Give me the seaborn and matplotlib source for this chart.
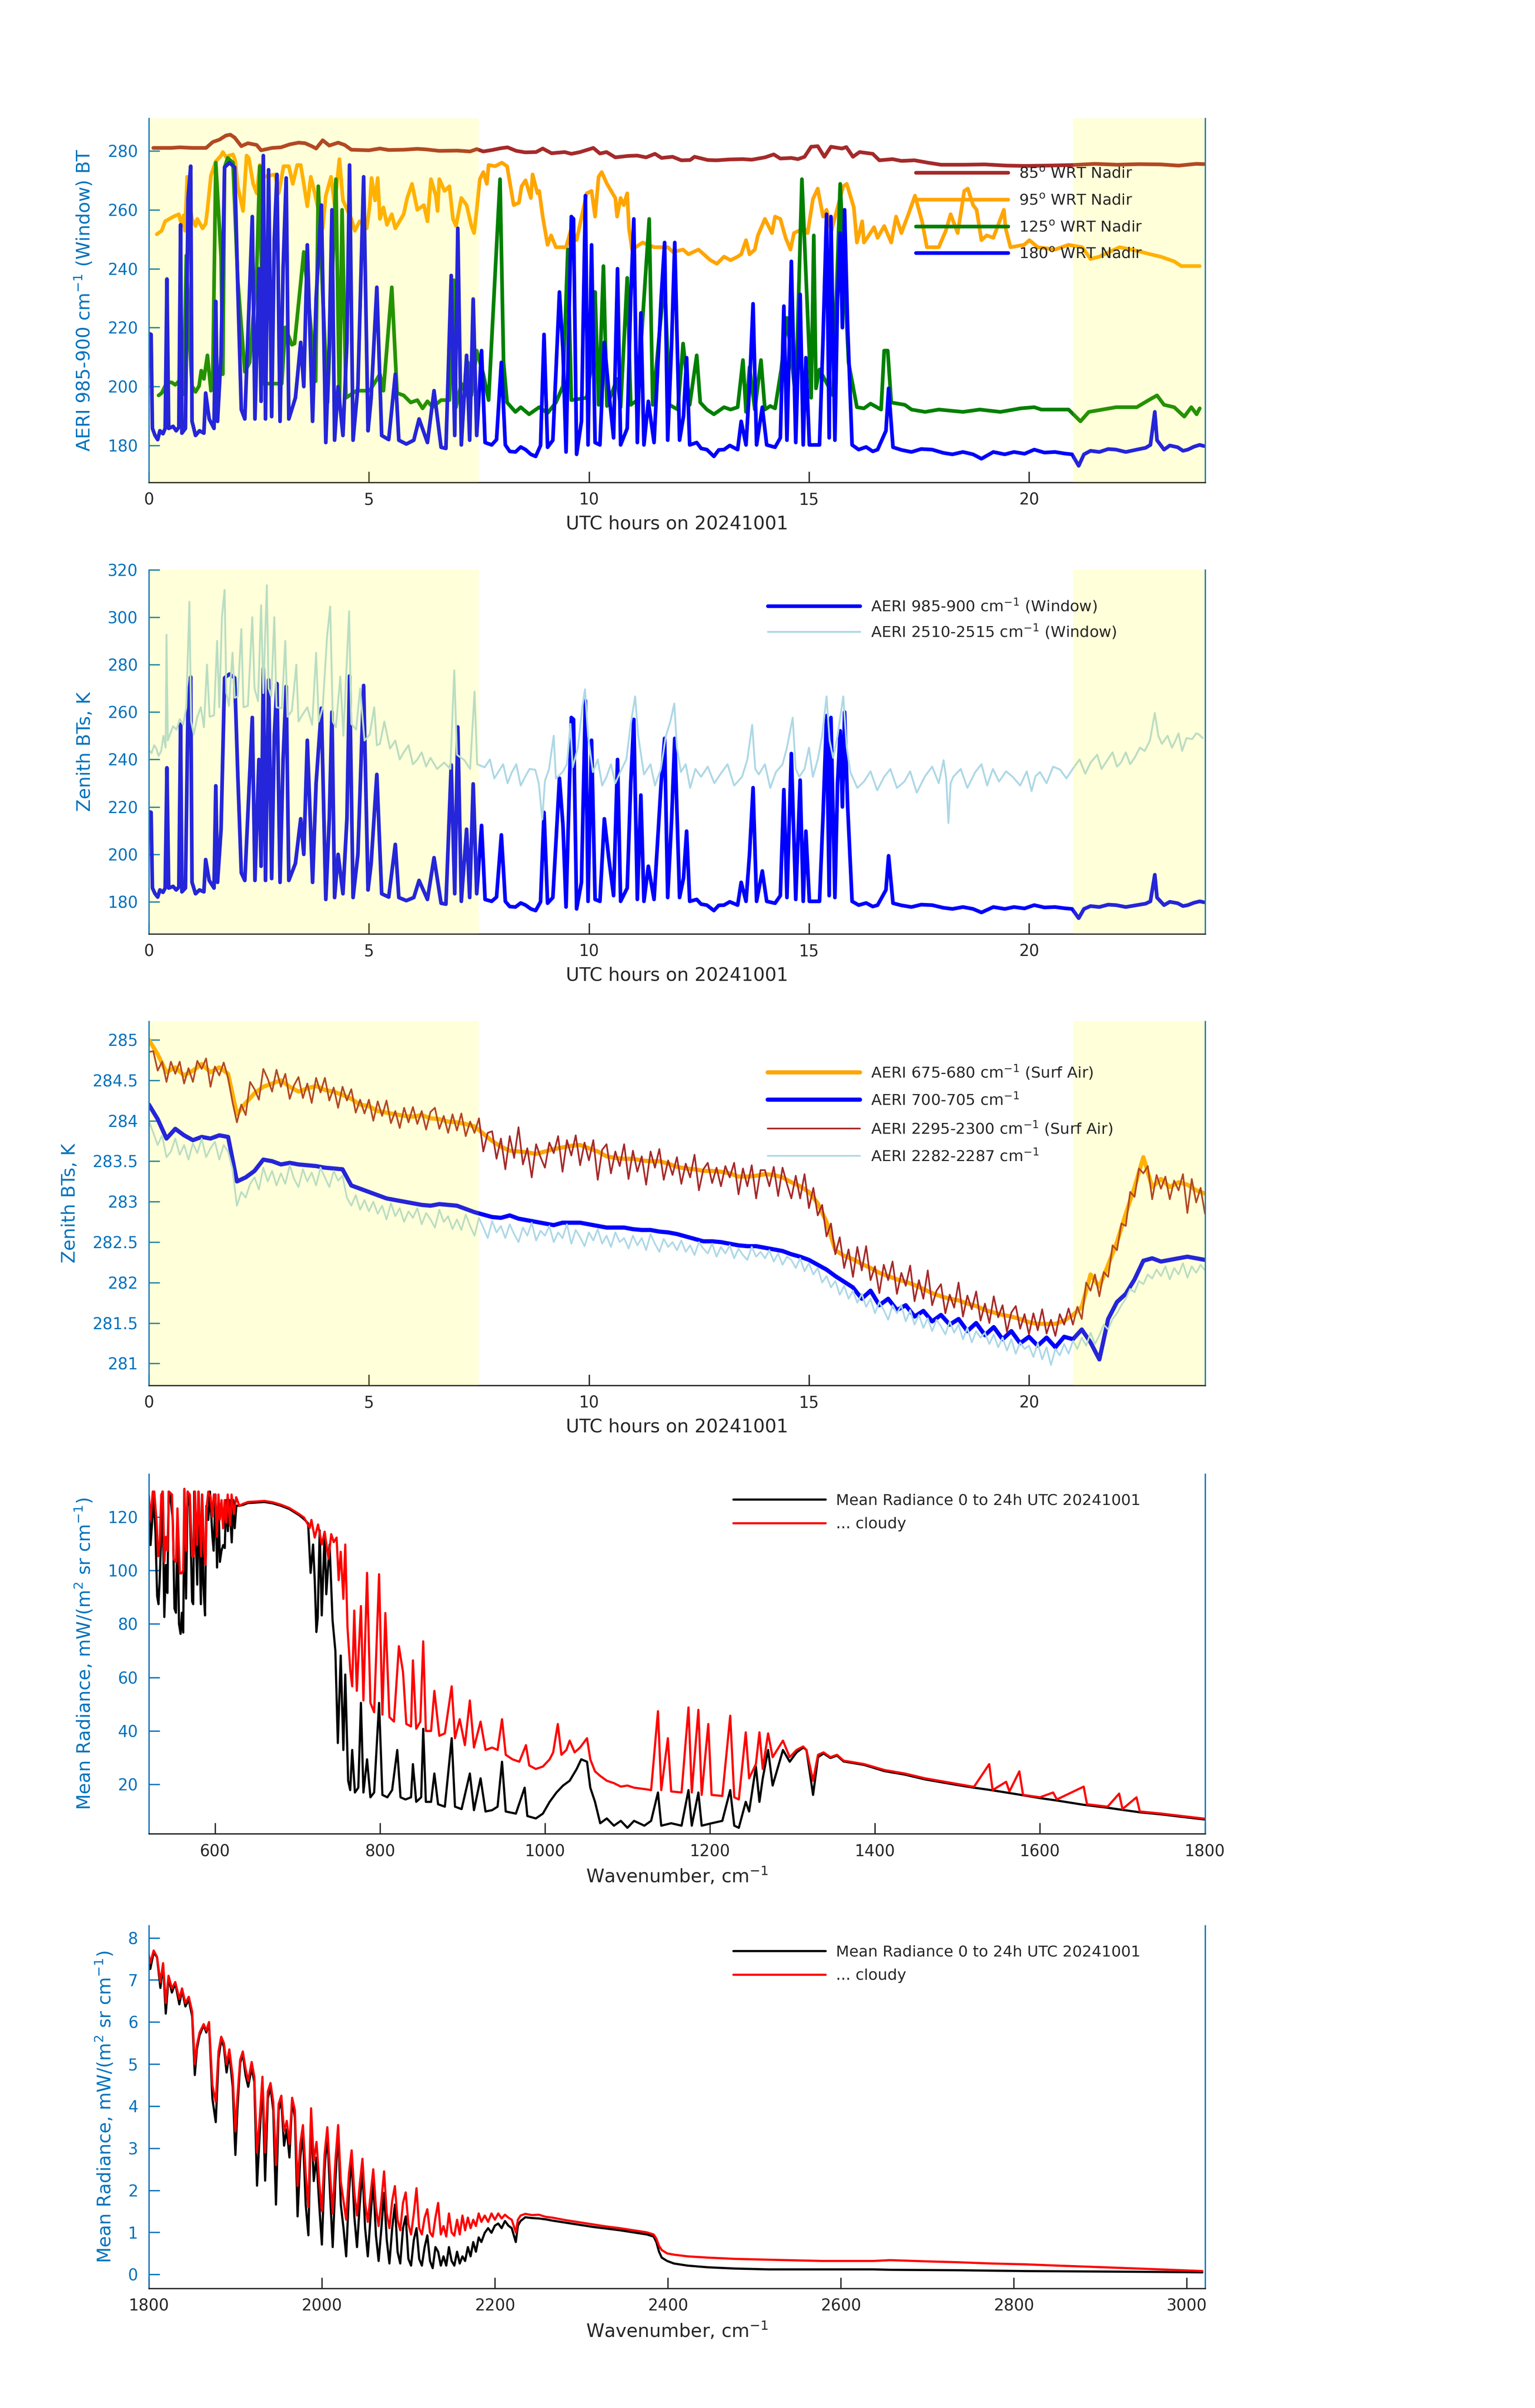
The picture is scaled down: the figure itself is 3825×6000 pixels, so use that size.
import numpy as np
import matplotlib
matplotlib.use("Agg")
import matplotlib.pyplot as plt
import seaborn as sns

# ---------------- panel 1/2: window BTs vs UTC hour (hour, K) ----------------
nadir85 = [
    (0.1, 281.0), (0.5, 281.0), (0.7, 281.2), (1.0, 281.0), (1.3, 281.0), (1.45, 283.0), (1.6, 283.8),
    (1.75, 285.2), (1.85, 285.5), (1.95, 284.5), (2.1, 281.6), (2.25, 282.6), (2.45, 282.0), (2.55, 280.2),
    (2.8, 281.0), (3.0, 281.2), (3.2, 282.2), (3.4, 282.8), (3.55, 282.6), (3.7, 281.6), (3.8, 280.8),
    (3.95, 283.6), (4.1, 281.8), (4.3, 282.8), (4.45, 282.0), (4.6, 280.4), (5.0, 280.2), (5.25, 280.8),
    (5.45, 280.3), (5.8, 280.4), (6.1, 280.7), (6.3, 280.5), (6.6, 280.0), (7.0, 280.1), (7.3, 279.8),
    (7.45, 280.6), (7.6, 279.8), (7.8, 280.3), (8.0, 280.9), (8.15, 281.2), (8.35, 280.0), (8.55, 279.5),
    (8.8, 279.6), (8.95, 280.8), (9.15, 279.2), (9.45, 279.6), (9.6, 279.0), (9.8, 279.6), (10.1, 281.0),
    (10.25, 279.1), (10.4, 279.6), (10.6, 277.8), (10.9, 278.3), (11.1, 278.4), (11.3, 277.8), (11.5, 279.0),
    (11.65, 277.6), (11.9, 278.0), (12.1, 276.8), (12.3, 276.9), (12.4, 278.0), (12.7, 276.9), (12.9, 276.8),
    (13.2, 277.1), (13.5, 277.2), (13.7, 277.0), (14.0, 277.8), (14.2, 278.8), (14.35, 277.4), (14.6, 277.6),
    (14.75, 277.2), (14.9, 278.0), (15.05, 281.4), (15.2, 281.6), (15.35, 278.0), (15.5, 281.4), (15.75, 280.8),
    (15.85, 281.3), (16.0, 278.0), (16.15, 279.6), (16.45, 279.0), (16.6, 276.8), (16.9, 277.2), (17.1, 276.6),
    (17.4, 276.8), (17.7, 276.0), (18.0, 275.3), (18.5, 275.3), (19.0, 275.4), (19.5, 275.0), (19.9, 274.9),
    (20.4, 275.0), (21.0, 275.2), (21.5, 275.6), (22.0, 275.3), (22.5, 275.5), (23.0, 275.4), (23.4, 275.0),
    (23.8, 275.6), (24.0, 275.5),
]

nadir95 = [
    (0.18, 251.7), (0.29, 252.9), (0.37, 256.1), (0.56, 257.7), (0.68, 258.5), (0.75, 254.5), (0.79, 258.1),
    (0.82, 252.9), (0.87, 271.2), (0.91, 263.2), (0.98, 256.9), (1.06, 254.5), (1.10, 256.9), (1.22, 253.7),
    (1.29, 255.3), (1.33, 260.0), (1.41, 271.6), (1.52, 276.4), (1.64, 278.4), (1.68, 279.6), (1.75, 278.0),
    (1.91, 278.8), (1.96, 276.8), (2.02, 268.0), (2.14, 259.6), (2.22, 278.4), (2.27, 277.6), (2.37, 268.8),
    (2.45, 265.6), (2.52, 275.2), (2.60, 271.2), (2.87, 272.0), (2.95, 265.6), (2.98, 268.0), (3.06, 274.8),
    (3.18, 274.8), (3.27, 268.8), (3.37, 275.2), (3.45, 275.2), (3.52, 268.8), (3.60, 261.2), (3.68, 271.2),
    (3.77, 265.6), (3.85, 260.0), (3.95, 253.7), (4.02, 264.8), (4.14, 271.2), (4.22, 261.6), (4.33, 277.2),
    (4.41, 263.2), (4.60, 256.9), (4.68, 252.9), (4.79, 256.1), (4.95, 253.7), (5.02, 261.6), (5.06, 270.8),
    (5.14, 263.2), (5.20, 270.8), (5.25, 256.9), (5.33, 260.8), (5.41, 254.9), (5.52, 258.5), (5.60, 253.7),
    (5.79, 258.5), (5.87, 264.0), (5.98, 268.8), (6.10, 260.0), (6.25, 261.6), (6.33, 256.1), (6.41, 270.4),
    (6.52, 264.8), (6.56, 259.6), (6.60, 270.4), (6.72, 266.4), (6.83, 268.0), (6.91, 256.9), (6.98, 254.5),
    (7.10, 264.0), (7.22, 261.6), (7.33, 254.5), (7.39, 252.1), (7.45, 260.0), (7.52, 270.4), (7.60, 272.8),
    (7.68, 268.8), (7.72, 275.2), (7.87, 274.8), (8.02, 276.0), (8.14, 274.8), (8.29, 261.6), (8.41, 262.4),
    (8.47, 268.0), (8.56, 270.0), (8.68, 264.0), (8.72, 272.0), (8.83, 265.6), (8.87, 266.4), (8.95, 257.7),
    (9.06, 248.1), (9.14, 251.3), (9.25, 247.3), (9.48, 247.3), (9.60, 253.7), (9.72, 249.7), (9.95, 265.6),
    (10.06, 266.4), (10.14, 257.7), (10.22, 271.2), (10.29, 272.8), (10.41, 268.8), (10.60, 264.0),
    (10.64, 257.7), (10.72, 264.0), (10.79, 261.6), (10.87, 265.6), (10.91, 253.7), (10.98, 246.5),
    (11.22, 248.9), (11.48, 247.3), (11.79, 247.3), (11.91, 245.7), (12.14, 246.5), (12.26, 244.9),
    (12.49, 246.5), (12.76, 242.9), (12.91, 241.7), (13.07, 244.1), (13.22, 242.9), (13.38, 244.1),
    (13.46, 244.9), (13.57, 249.7), (13.65, 244.9), (13.77, 246.5), (13.84, 251.3), (14.00, 256.9),
    (14.16, 252.1), (14.23, 257.7), (14.35, 256.9), (14.47, 250.5), (14.58, 246.5), (14.66, 252.1),
    (14.89, 253.7), (14.97, 252.1), (15.09, 263.6), (15.20, 267.2), (15.32, 257.7), (15.40, 260.0),
    (15.51, 252.9), (15.78, 268.0), (15.86, 268.8), (16.02, 260.8), (16.09, 248.9), (16.21, 256.1),
    (16.25, 248.9), (16.36, 251.3), (16.48, 254.1), (16.56, 250.5), (16.71, 254.5), (16.87, 248.9),
    (16.98, 257.7), (17.10, 252.1), (17.26, 258.5), (17.41, 264.8), (17.57, 256.1), (17.68, 247.3),
    (17.95, 247.3), (18.11, 252.9), (18.22, 258.5), (18.38, 252.1), (18.53, 266.4), (18.61, 267.2),
    (18.73, 261.6), (18.81, 260.0), (18.92, 249.7), (19.04, 251.3), (19.19, 250.5), (19.43, 260.0),
    (19.47, 253.7), (19.58, 247.3), (19.89, 248.1), (20.01, 249.7), (20.20, 247.3), (20.59, 246.5),
    (20.90, 248.1), (21.21, 247.3), (21.40, 243.3), (21.60, 244.1), (21.83, 245.7), (22.06, 247.3),
    (22.45, 246.1), (22.76, 244.9), (22.99, 244.1), (23.30, 242.5), (23.46, 240.9), (23.88, 240.9),
]

nadir125 = [
    (0.22, 197.0), (0.29, 197.8), (0.41, 201.4), (0.52, 201.4), (0.60, 200.6), (0.68, 201.8), (0.72, 201.0),
    (0.79, 197.4), (0.85, 244.5), (0.91, 219.4), (0.98, 200.2), (1.06, 198.2), (1.14, 200.2), (1.19, 205.4),
    (1.25, 202.6), (1.33, 210.6), (1.41, 198.6), (1.45, 201.0), (1.52, 276.0), (1.64, 244.1), (1.68, 204.2),
    (1.72, 274.4), (1.79, 277.6), (1.91, 276.0), (2.02, 236.1), (2.18, 205.0), (2.29, 208.2), (2.45, 239.3),
    (2.52, 274.8), (2.60, 201.0), (3.02, 201.0), (3.10, 220.1), (3.25, 214.2), (3.31, 214.6), (3.52, 245.7),
    (3.60, 233.7), (3.79, 201.8), (3.85, 268.0), (3.95, 231.3), (4.06, 194.6), (4.25, 270.4), (4.33, 193.8),
    (4.39, 260.0), (4.48, 196.2), (4.72, 198.6), (5.02, 198.6), (5.25, 204.2), (5.33, 198.6), (5.52, 233.7),
    (5.64, 197.8), (5.79, 197.0), (5.95, 194.6), (6.10, 195.4), (6.22, 192.6), (6.33, 195.0), (6.45, 193.0),
    (6.64, 195.4), (6.83, 195.4), (6.93, 236.1), (6.98, 193.0), (7.10, 201.0), (7.22, 197.0), (7.25, 208.2),
    (7.33, 197.0), (7.45, 212.2), (7.60, 204.2), (7.72, 195.4), (7.98, 270.4), (8.06, 208.2), (8.14, 194.6),
    (8.33, 191.4), (8.45, 193.0), (8.64, 190.6), (8.87, 193.0), (9.06, 191.0), (9.25, 194.6), (9.41, 200.2),
    (9.52, 246.5), (9.60, 195.4), (9.95, 196.2), (10.10, 212.2), (10.14, 232.1), (10.22, 193.8), (10.33, 240.9),
    (10.41, 193.4), (10.64, 202.6), (10.72, 193.0), (10.87, 236.9), (10.95, 193.8), (11.10, 195.4),
    (11.37, 256.9), (11.45, 193.8), (11.72, 236.9), (11.83, 193.8), (12.02, 192.2), (12.14, 214.6),
    (12.29, 193.8), (12.45, 210.6), (12.53, 194.6), (12.68, 192.2), (12.84, 190.6), (13.07, 193.0),
    (13.22, 192.2), (13.38, 193.0), (13.50, 209.0), (13.57, 191.4), (13.65, 206.6), (13.77, 192.2),
    (13.91, 209.0), (14.00, 192.2), (14.12, 193.4), (14.23, 192.6), (14.37, 205.8), (14.50, 223.3),
    (14.70, 196.2), (14.84, 270.4), (15.05, 196.2), (15.11, 251.3), (15.16, 199.4), (15.24, 205.8),
    (15.55, 197.0), (15.71, 268.8), (15.90, 208.2), (16.09, 193.0), (16.25, 192.6), (16.40, 194.2),
    (16.64, 192.2), (16.71, 212.2), (16.79, 212.2), (16.87, 194.6), (17.18, 193.8), (17.33, 192.2),
    (17.64, 191.4), (17.95, 192.2), (18.50, 191.4), (18.88, 192.2), (19.35, 191.4), (19.81, 192.6),
    (20.12, 193.0), (20.28, 192.2), (20.90, 192.2), (21.17, 188.2), (21.36, 191.4), (21.67, 192.2),
    (21.98, 193.0), (22.45, 193.0), (22.72, 195.4), (22.91, 197.0), (23.07, 193.8), (23.30, 193.0),
    (23.53, 189.8), (23.69, 193.0), (23.81, 190.6), (23.88, 192.6),
]

# 180 deg WRT nadir == zenith 985-900 cm-1 window (used in panels 1 and 2)
window985 = [
    (0.00, 218.0), (0.05, 217.7), (0.08, 185.8), (0.14, 183.4), (0.20, 182.0), (0.25, 185.0), (0.32, 184.0),
    (0.37, 185.8), (0.41, 236.5), (0.45, 185.8), (0.55, 186.5), (0.62, 185.0), (0.68, 186.2), (0.72, 254.9),
    (0.75, 184.2), (0.83, 185.8), (0.89, 264.0), (0.95, 274.8), (0.98, 188.2), (1.06, 183.4), (1.15, 185.0),
    (1.25, 184.2), (1.29, 197.8), (1.37, 189.0), (1.48, 185.8), (1.52, 228.9), (1.56, 188.2), (1.64, 210.6),
    (1.72, 274.4), (1.83, 276.0), (1.95, 274.4), (2.02, 233.7), (2.10, 192.2), (2.18, 189.0), (2.35, 257.7),
    (2.41, 189.0), (2.50, 240.0), (2.55, 195.0), (2.60, 278.4), (2.65, 189.0), (2.72, 273.6), (2.79, 189.8),
    (2.85, 250.0), (2.91, 272.0), (2.98, 188.2), (3.05, 240.0), (3.12, 270.8), (3.18, 189.0), (3.33, 196.2),
    (3.45, 215.0), (3.52, 200.0), (3.60, 248.1), (3.72, 188.2), (3.80, 230.0), (3.92, 261.6), (4.02, 181.0),
    (4.10, 215.0), (4.16, 260.0), (4.22, 181.8), (4.30, 200.0), (4.41, 183.4), (4.50, 215.0), (4.56, 275.2),
    (4.64, 181.8), (4.75, 200.0), (4.88, 271.2), (4.98, 185.0), (5.05, 196.0), (5.18, 233.7), (5.29, 183.4),
    (5.45, 182.0), (5.60, 204.2), (5.68, 181.8), (5.85, 180.5), (6.02, 181.8), (6.14, 189.0), (6.33, 181.0),
    (6.48, 198.6), (6.64, 179.4), (6.75, 179.0), (6.87, 237.7), (6.95, 183.4), (7.02, 253.7), (7.10, 180.2),
    (7.22, 210.6), (7.29, 181.8), (7.37, 229.7), (7.45, 183.4), (7.56, 212.2), (7.64, 181.0), (7.79, 180.2),
    (7.90, 182.0), (8.01, 208.2), (8.10, 180.2), (8.20, 178.0), (8.33, 177.8), (8.45, 179.5), (8.56, 178.6),
    (8.68, 177.0), (8.79, 176.3), (8.90, 180.0), (8.98, 217.7), (9.06, 179.4), (9.18, 181.8), (9.25, 205.0),
    (9.33, 232.1), (9.41, 212.2), (9.48, 177.8), (9.55, 225.0), (9.60, 257.7), (9.65, 256.9), (9.72, 177.0),
    (9.83, 188.2), (9.92, 264.8), (9.98, 180.2), (10.06, 248.1), (10.14, 181.0), (10.25, 180.2), (10.35, 215.0),
    (10.45, 198.6), (10.56, 182.6), (10.65, 240.0), (10.72, 180.2), (10.87, 185.8), (10.95, 230.0),
    (11.02, 256.9), (11.10, 181.0), (11.18, 225.0), (11.25, 180.2), (11.35, 195.0), (11.48, 181.0),
    (11.64, 229.7), (11.72, 248.9), (11.79, 181.8), (11.88, 215.0), (11.95, 248.9), (12.06, 181.8),
    (12.15, 190.0), (12.22, 209.8), (12.29, 180.2), (12.45, 181.0), (12.55, 179.0), (12.68, 178.6),
    (12.84, 176.3), (12.95, 178.5), (13.07, 178.6), (13.20, 180.0), (13.38, 178.6), (13.46, 188.2),
    (13.57, 180.2), (13.65, 200.2), (13.73, 228.1), (13.81, 180.2), (13.94, 193.0), (14.04, 180.2),
    (14.23, 179.4), (14.35, 182.6), (14.43, 227.3), (14.50, 181.8), (14.60, 242.5), (14.70, 181.0),
    (14.80, 231.3), (14.87, 180.2), (14.93, 209.8), (15.01, 180.2), (15.24, 180.2), (15.32, 216.2),
    (15.40, 258.5), (15.46, 182.6), (15.50, 257.7), (15.59, 181.8), (15.65, 230.0), (15.71, 252.1),
    (15.76, 220.0), (15.81, 260.0), (15.88, 220.1), (15.98, 180.2), (16.13, 178.6), (16.30, 179.5),
    (16.45, 178.0), (16.56, 178.6), (16.75, 185.0), (16.81, 199.4), (16.91, 179.4), (17.10, 178.5),
    (17.33, 177.8), (17.55, 178.8), (17.80, 178.6), (18.05, 177.5), (18.26, 177.0), (18.50, 177.8),
    (18.73, 177.0), (18.92, 175.5), (19.19, 177.8), (19.45, 177.0), (19.66, 177.8), (19.90, 177.2),
    (20.12, 178.6), (20.35, 177.6), (20.59, 177.8), (20.80, 177.3), (20.98, 177.0), (21.13, 173.1),
    (21.25, 177.0), (21.40, 178.2), (21.60, 177.8), (21.80, 178.8), (21.98, 178.6), (22.20, 177.8),
    (22.45, 178.6), (22.65, 179.2), (22.76, 180.2), (22.86, 191.4), (22.91, 181.8), (23.07, 178.6),
    (23.20, 180.0), (23.38, 179.4), (23.50, 178.2), (23.61, 178.6), (23.75, 179.6), (23.88, 180.2),
    (23.98, 179.8),
]

window2510 = [
    (0.00, 244.0), (0.06, 242.7), (0.12, 246.0), (0.17, 244.6), (0.22, 241.5), (0.28, 243.6), (0.33, 250.0),
    (0.38, 245.0), (0.40, 292.6), (0.43, 248.0), (0.48, 250.6), (0.55, 254.0), (0.63, 252.6), (0.70, 257.0),
    (0.78, 254.6), (0.85, 262.0), (0.92, 306.5), (0.96, 256.0), (1.02, 250.6), (1.10, 258.0), (1.18, 262.0),
    (1.25, 253.6), (1.32, 280.0), (1.38, 258.0), (1.48, 258.6), (1.55, 290.0), (1.60, 262.0), (1.66, 300.0),
    (1.72, 311.5), (1.76, 268.0), (1.82, 262.6), (1.90, 285.0), (1.95, 266.0), (2.02, 266.6), (2.10, 295.0),
    (2.15, 262.0), (2.25, 262.6), (2.35, 300.0), (2.40, 270.0), (2.48, 264.6), (2.55, 305.0), (2.60, 268.0),
    (2.68, 313.5), (2.72, 270.0), (2.78, 266.6), (2.85, 300.0), (2.90, 262.0), (3.02, 261.6), (3.10, 290.0),
    (3.15, 258.0), (3.25, 260.6), (3.35, 280.0), (3.40, 256.0), (3.48, 258.6), (3.60, 262.0), (3.71, 254.6),
    (3.80, 285.0), (3.86, 256.0), (3.95, 262.0), (4.05, 292.0), (4.12, 304.5), (4.18, 256.0), (4.25, 253.6),
    (4.35, 275.0), (4.42, 250.0), (4.55, 302.5), (4.60, 255.0), (4.71, 252.6), (4.80, 270.0), (4.90, 248.0),
    (5.02, 250.6), (5.12, 262.0), (5.18, 246.0), (5.25, 246.6), (5.35, 256.0), (5.48, 244.6), (5.60, 248.0),
    (5.70, 240.0), (5.78, 242.7), (5.90, 246.0), (6.00, 238.0), (6.09, 239.7), (6.20, 243.0), (6.30, 237.0),
    (6.40, 240.7), (6.55, 236.0), (6.71, 238.7), (6.85, 236.0), (6.94, 277.6), (7.00, 242.0), (7.17, 239.7),
    (7.30, 236.0), (7.40, 268.6), (7.46, 238.0), (7.63, 236.7), (7.75, 240.0), (7.85, 232.0), (7.94, 234.7),
    (8.05, 238.0), (8.15, 230.0), (8.25, 234.7), (8.35, 238.0), (8.45, 229.0), (8.55, 232.7), (8.65, 236.0),
    (8.78, 235.7), (8.86, 230.0), (8.94, 214.7), (9.00, 231.0), (9.09, 235.7), (9.20, 250.0), (9.25, 232.0),
    (9.40, 234.7), (9.50, 238.0), (9.58, 255.0), (9.63, 236.7), (9.75, 245.0), (9.85, 262.0), (9.91, 269.6),
    (9.98, 250.0), (10.09, 234.7), (10.20, 240.0), (10.30, 229.0), (10.40, 232.7), (10.50, 238.0),
    (10.60, 230.0), (10.71, 234.7), (10.85, 240.0), (10.95, 255.0), (11.05, 266.6), (11.12, 250.0),
    (11.25, 233.7), (11.40, 238.0), (11.50, 229.0), (11.63, 235.7), (11.75, 250.0), (11.85, 256.0),
    (11.94, 263.6), (12.00, 245.0), (12.09, 234.7), (12.20, 238.0), (12.30, 228.0), (12.42, 236.0),
    (12.55, 232.7), (12.70, 237.0), (12.85, 230.0), (13.02, 234.7), (13.15, 238.0), (13.30, 229.0),
    (13.48, 232.7), (13.60, 240.0), (13.71, 254.6), (13.78, 236.0), (13.86, 233.7), (14.00, 238.0),
    (14.12, 228.0), (14.25, 234.7), (14.40, 238.0), (14.50, 245.0), (14.63, 257.6), (14.70, 236.0),
    (14.78, 232.7), (14.90, 236.0), (15.00, 245.0), (15.09, 232.7), (15.20, 240.0), (15.30, 250.0),
    (15.40, 266.6), (15.47, 248.0), (15.55, 240.7), (15.65, 250.0), (15.78, 266.6), (15.86, 245.0),
    (15.94, 234.7), (16.10, 228.0), (16.25, 230.7), (16.40, 235.0), (16.55, 227.0), (16.71, 232.7),
    (16.85, 236.0), (17.00, 228.0), (17.17, 230.7), (17.30, 235.0), (17.45, 226.0), (17.63, 232.7),
    (17.80, 237.0), (17.95, 230.0), (18.06, 239.7), (18.12, 232.0), (18.17, 213.2), (18.22, 230.0),
    (18.28, 232.7), (18.45, 236.0), (18.60, 228.0), (18.78, 234.7), (18.92, 238.0), (19.05, 229.0),
    (19.18, 236.0), (19.32, 230.7), (19.48, 235.0), (19.63, 232.7), (19.80, 229.0), (19.95, 235.0),
    (20.06, 226.7), (20.15, 233.0), (20.25, 234.7), (20.40, 230.0), (20.55, 237.0), (20.71, 235.7),
    (20.85, 232.0), (21.02, 236.7), (21.15, 240.0), (21.28, 234.0), (21.40, 238.7), (21.55, 242.0),
    (21.65, 236.0), (21.78, 239.7), (21.90, 243.0), (22.00, 237.0), (22.09, 238.7), (22.20, 243.0),
    (22.30, 238.0), (22.40, 240.7), (22.52, 245.0), (22.63, 243.6), (22.75, 248.0), (22.86, 259.6),
    (22.94, 250.0), (23.02, 246.6), (23.15, 250.0), (23.25, 245.0), (23.32, 247.6), (23.40, 251.0),
    (23.48, 243.6), (23.58, 249.0), (23.71, 248.6), (23.80, 251.0), (23.86, 250.6), (23.95, 249.0),
]

# ---------------- panel 3: surface-air channels ----------------
# thick channels every 0.2 h (one row = 2 h)
hours_thick = np.arange(121) * 0.2
surf675 = [
    285.00, 284.82, 284.60, 284.66, 284.56, 284.62, 284.70, 284.60, 284.66, 284.58,
    284.08, 284.22, 284.34, 284.42, 284.46, 284.50, 284.42, 284.36, 284.40, 284.43,
    284.38, 284.36, 284.32, 284.27, 284.20, 284.18, 284.12, 284.10, 284.08, 284.06,
    284.05, 284.07, 284.03, 284.02, 283.99, 283.98, 283.96, 283.93, 283.84, 283.75,
    283.68, 283.63, 283.62, 283.61, 283.59, 283.62, 283.65, 283.67, 283.69, 283.70,
    283.66, 283.62, 283.56, 283.54, 283.53, 283.53, 283.51, 283.50, 283.50, 283.47,
    283.43, 283.41, 283.40, 283.38, 283.38, 283.37, 283.35, 283.31, 283.31, 283.32,
    283.34, 283.33, 283.30, 283.24, 283.19, 283.12, 282.98, 282.75, 282.40, 282.33,
    282.29, 282.23, 282.18, 282.12, 282.08, 282.04, 282.01, 281.97, 281.92, 281.87,
    281.83, 281.80, 281.78, 281.74, 281.71, 281.66, 281.63, 281.60, 281.58, 281.55,
    281.51, 281.49, 281.49, 281.49, 281.53, 281.60, 281.70, 282.10, 281.95, 282.22,
    282.50, 282.85, 283.18, 283.55, 283.18, 283.28, 283.18, 283.24, 283.21, 283.14,
    283.10,
]
ch700 = [
    284.20, 284.02, 283.78, 283.90, 283.82, 283.76, 283.80, 283.78, 283.82, 283.80,
    283.25, 283.30, 283.38, 283.52, 283.50, 283.46, 283.48, 283.46, 283.45, 283.44,
    283.42, 283.41, 283.40, 283.20, 283.16, 283.12, 283.08, 283.04, 283.02, 283.00,
    282.98, 282.96, 282.95, 282.97, 282.96, 282.95, 282.91, 282.87, 282.84, 282.81,
    282.80, 282.83, 282.79, 282.77, 282.75, 282.73, 282.71, 282.74, 282.74, 282.74,
    282.72, 282.70, 282.68, 282.68, 282.68, 282.66, 282.65, 282.65, 282.63, 282.62,
    282.60, 282.57, 282.54, 282.51, 282.51, 282.50, 282.48, 282.46, 282.45, 282.45,
    282.43, 282.41, 282.39, 282.35, 282.32, 282.28, 282.22, 282.16, 282.08, 282.01,
    281.94, 281.80, 281.90, 281.72, 281.80, 281.66, 281.72, 281.58, 281.65, 281.52,
    281.60, 281.48, 281.55, 281.40, 281.50, 281.35, 281.45, 281.30, 281.40, 281.25,
    281.33, 281.22, 281.32, 281.20, 281.33, 281.30, 281.42, 281.26, 281.05, 281.55,
    281.76, 281.86, 282.04, 282.27, 282.30, 282.26, 282.28, 282.30, 282.32, 282.30,
    282.28,
]
# thin channels every 0.1 h (one row = 1 h)
hours_thin = np.arange(241) * 0.1
surf2295 = [
    284.85, 284.86, 284.62, 284.73, 284.48, 284.73, 284.58, 284.73, 284.46, 284.65,
    284.48, 284.74, 284.64, 284.77, 284.42, 284.67, 284.56, 284.72, 284.53, 284.23,
    283.98, 284.20, 284.07, 284.48, 284.39, 284.26, 284.64, 284.52, 284.36, 284.63,
    284.42, 284.58, 284.27, 284.44, 284.54, 284.28, 284.46, 284.22, 284.53, 284.35,
    284.53, 284.25, 284.41, 284.16, 284.42, 284.25, 284.39, 284.10, 284.26, 284.09,
    284.26, 284.00, 284.24, 284.06, 284.25, 283.97, 284.12, 283.91, 284.16, 283.98,
    284.17, 283.96, 284.12, 283.89, 284.11, 284.16, 283.90, 284.06, 283.85, 284.08,
    283.88, 284.09, 283.81, 283.99, 283.85, 284.03, 283.62, 283.85, 283.87, 283.53,
    283.78, 283.40, 283.81, 283.54, 283.92, 283.46, 283.66, 283.30, 283.71, 283.55,
    283.42, 283.73, 283.60, 283.81, 283.37, 283.76, 283.57, 283.82, 283.45, 283.73,
    283.51, 283.76, 283.27, 283.64, 283.71, 283.35, 283.62, 283.44, 283.71, 283.28,
    283.63, 283.37, 283.56, 283.21, 283.62, 283.42, 283.65, 283.27, 283.51, 283.33,
    283.55, 283.22, 283.47, 283.30, 283.58, 283.14, 283.40, 283.48, 283.23, 283.42,
    283.19, 283.44, 283.30, 283.48, 283.09, 283.41, 283.19, 283.45, 283.04, 283.39,
    283.39, 283.19, 283.43, 283.07, 283.42, 283.22, 283.04, 283.32, 283.04, 283.34,
    282.92, 283.17, 282.83, 282.96, 282.57, 282.73, 282.35, 282.56, 282.18, 282.41,
    282.07, 282.44, 282.15, 282.45, 282.03, 282.20, 281.87, 282.22, 282.03, 282.26,
    281.86, 282.12, 281.96, 282.21, 281.77, 282.03, 281.80, 282.15, 281.72, 281.90,
    281.98, 281.62, 281.85, 281.69, 282.00, 281.58, 281.84, 281.67, 281.89, 281.53,
    281.74, 281.50, 281.83, 281.57, 281.72, 281.39, 281.63, 281.71, 281.43, 281.61,
    281.36, 281.62, 281.41, 281.67, 281.37, 281.54, 281.34, 281.61, 281.48, 281.68,
    281.48, 281.70, 281.55, 282.00, 281.90, 282.10, 281.83, 282.13, 282.07, 282.46,
    282.40, 282.73, 282.70, 283.12, 283.06, 283.41, 283.35, 283.44, 283.03, 283.33,
    283.16, 283.31, 283.03, 283.26, 283.14, 283.34, 282.86, 283.28, 282.99, 283.17,
    282.85,
]
ch2282 = [
    284.00, 283.85, 283.70, 283.82, 283.55, 283.62, 283.78, 283.58, 283.70, 283.52,
    283.72, 283.60, 283.78, 283.55, 283.66, 283.74, 283.52, 283.70, 283.62, 283.40,
    282.95, 283.12, 283.05, 283.22, 283.30, 283.15, 283.42, 283.25, 283.38, 283.20,
    283.35, 283.22, 283.45, 283.28, 283.18, 283.40, 283.25, 283.36, 283.20, 283.42,
    283.30, 283.18, 283.38, 283.26, 283.32, 283.05, 282.95, 283.08, 282.90, 283.02,
    282.88, 283.00, 282.85, 282.95, 282.78, 282.98, 282.82, 282.92, 282.75, 282.88,
    282.80, 282.92, 282.72, 282.86, 282.78, 282.68, 282.90, 282.75, 282.82, 282.66,
    282.78, 282.65, 282.84, 282.70, 282.58, 282.80, 282.68, 282.55, 282.76, 282.62,
    282.70, 282.55, 282.72, 282.60, 282.50, 282.68, 282.58, 282.74, 282.52, 282.64,
    282.58, 282.70, 282.50, 282.62, 282.55, 282.72, 282.48, 282.65, 282.56, 282.45,
    282.62, 282.52, 282.66, 282.48, 282.58, 282.44, 282.62, 282.50, 282.55, 282.42,
    282.58, 282.46, 282.55, 282.40, 282.60, 282.48, 282.38, 282.54, 282.44, 282.50,
    282.40, 282.52, 282.38, 282.46, 282.34, 282.50, 282.42, 282.36, 282.48, 282.32,
    282.44, 282.36, 282.46, 282.30, 282.42, 282.34, 282.28, 282.44, 282.32, 282.38,
    282.30, 282.40, 282.26, 282.36, 282.22, 282.32, 282.28, 282.18, 282.30, 282.14,
    282.24, 282.10, 282.18, 282.00, 282.08, 281.94, 282.02, 281.85, 281.96, 281.80,
    281.90, 281.75, 281.86, 281.70, 281.80, 281.62, 281.76, 281.66, 281.54, 281.72,
    281.62, 281.72, 281.52, 281.66, 281.48, 281.60, 281.44, 281.56, 281.40, 281.54,
    281.46, 281.36, 281.52, 281.38, 281.48, 281.30, 281.44, 281.26, 281.40, 281.32,
    281.38, 281.24, 281.36, 281.20, 281.32, 281.16, 281.30, 281.12, 281.26, 281.18,
    281.22, 281.08, 281.25, 281.05, 281.20, 280.98, 281.18, 281.10, 281.24, 281.12,
    281.28, 281.18, 281.32, 281.22, 281.38, 281.24, 281.35, 281.48, 281.42, 281.55,
    281.62, 281.72, 281.80, 281.92, 281.88, 282.02, 281.98, 282.10, 282.05, 282.16,
    282.08, 282.20, 282.04, 282.18, 282.10, 282.24, 282.06, 282.20, 282.12, 282.22,
    282.15,
]

# ---------------- panel 4: mean radiance 520-1800 cm-1 ----------------
rad_all_lw = [
    (520.0, 126.0), (522.0, 109.5), (524.0, 118.4), (525.6, 129.5), (528.0, 113.7), (530.0, 90.5),
    (531.6, 87.4), (533.0, 95.8), (535.0, 113.7), (536.5, 129.5), (538.7, 82.6), (540.6, 102.1),
    (542.5, 91.6), (544.0, 129.5), (546.0, 127.4), (549.0, 118.9), (551.0, 85.8), (552.8, 84.2),
    (554.6, 118.9), (556.5, 80.0), (558.4, 76.3), (560.0, 84.2), (561.6, 76.8), (563.0, 130.5),
    (565.0, 89.5), (567.0, 129.5), (569.6, 124.2), (572.4, 88.4), (573.7, 87.4), (575.0, 129.5),
    (578.6, 94.7), (580.0, 129.5), (583.0, 87.4), (584.4, 128.4), (586.0, 94.7), (588.0, 83.2),
    (589.7, 124.2), (592.0, 118.9), (594.0, 129.5), (597.0, 112.6), (598.5, 107.4), (600.7, 128.4),
    (602.6, 101.1), (604.5, 125.3), (606.0, 103.2), (608.0, 107.4), (610.0, 109.5), (612.0, 108.4),
    (613.5, 126.3), (615.7, 114.7), (617.6, 126.3), (620.4, 110.5), (622.3, 126.3), (624.0, 115.8),
    (626.0, 124.2), (630.0, 124.2), (634.0, 124.5), (640.0, 125.2), (650.0, 125.4), (660.0, 125.6),
    (670.0, 125.1), (680.0, 124.2), (690.0, 123.0), (702.0, 120.7), (708.0, 119.2), (713.0, 117.6),
    (716.0, 99.1), (719.0, 109.7), (721.0, 96.4), (723.0, 77.0), (724.6, 82.3), (727.0, 115.0),
    (729.5, 83.2), (733.0, 114.1), (735.0, 91.1), (739.0, 109.7), (742.6, 81.4), (746.0, 70.0),
    (749.0, 35.5), (752.5, 68.2), (755.7, 32.9), (758.0, 61.1), (761.5, 21.4), (764.0, 17.9),
    (766.4, 32.9), (769.7, 17.0), (773.8, 18.8), (777.0, 50.5), (780.0, 17.0), (784.4, 29.4),
    (788.5, 15.2), (793.0, 17.0), (799.0, 50.5), (803.0, 16.1), (809.0, 15.2), (814.8, 17.9),
    (821.0, 32.9), (825.0, 15.2), (831.0, 14.4), (837.7, 15.2), (840.0, 27.6), (844.0, 13.5),
    (850.0, 15.2), (852.5, 40.8), (855.7, 13.5), (862.0, 13.5), (866.0, 24.1), (870.5, 12.6),
    (878.7, 11.7), (887.0, 37.3), (891.0, 11.7), (899.0, 10.8), (909.0, 24.1), (914.0, 10.4),
    (922.0, 22.3), (928.0, 9.9), (936.0, 10.4), (942.6, 11.7), (948.0, 28.5), (952.5, 9.9),
    (964.8, 9.1), (975.4, 18.8), (978.7, 8.2), (989.0, 7.3), (997.5, 9.1), (1005.7, 13.5),
    (1014.0, 17.0), (1022.0, 19.6), (1030.0, 21.4), (1038.5, 25.8), (1044.0, 29.4), (1051.0, 28.5),
    (1055.0, 18.8), (1060.7, 13.5), (1067.0, 5.5), (1075.0, 7.3), (1083.6, 4.6), (1092.0, 6.4),
    (1100.0, 3.8), (1108.0, 6.4), (1120.5, 4.6), (1128.7, 6.4), (1137.0, 17.0), (1141.0, 4.6),
    (1153.0, 5.5), (1165.6, 4.6), (1174.0, 17.9), (1178.0, 4.6), (1186.0, 17.0), (1190.0, 4.6),
    (1202.0, 5.5), (1215.0, 6.4), (1224.6, 17.9), (1229.5, 4.6), (1235.0, 3.8), (1243.4, 13.5),
    (1247.5, 9.9), (1255.7, 26.7), (1260.0, 13.5), (1264.0, 22.3), (1270.5, 32.9), (1276.0, 19.6),
    (1288.5, 32.9), (1296.7, 28.5), (1305.0, 32.0), (1313.0, 33.8), (1317.0, 32.9), (1325.0, 16.1),
    (1331.0, 30.2), (1337.7, 31.6), (1346.0, 29.9), (1354.0, 30.8), (1362.0, 28.6), (1370.0, 28.2),
    (1387.0, 27.3), (1411.5, 25.0), (1436.0, 23.7), (1460.7, 21.9), (1485.0, 20.6), (1501.6, 19.7),
    (1520.0, 18.8), (1538.5, 18.0), (1559.0, 17.0), (1575.0, 16.2), (1600.0, 14.9), (1620.5, 14.0),
    (1653.0, 12.4), (1682.0, 11.3), (1700.0, 10.5), (1721.0, 9.6), (1747.5, 8.8), (1772.0, 7.9),
    (1797.0, 7.0), (1800.0, 6.9),
]
rad_cloudy_lw = [
    (520.0, 127.9), (522.0, 119.0), (524.7, 129.5), (526.5, 129.5), (529.4, 117.9), (531.2, 105.3),
    (533.0, 109.5), (535.0, 128.4), (536.9, 129.5), (538.7, 103.2), (540.6, 112.6), (542.5, 107.4),
    (544.3, 129.5), (548.0, 128.4), (550.0, 104.2), (552.8, 103.2), (554.6, 123.2), (557.5, 98.9),
    (559.3, 98.9), (561.6, 100.0), (563.0, 130.5), (565.0, 107.4), (566.8, 129.5), (569.6, 128.4),
    (572.4, 105.3), (574.3, 105.3), (575.8, 129.5), (578.4, 109.5), (580.3, 129.5), (583.3, 105.3),
    (584.6, 128.4), (587.0, 107.4), (588.7, 102.1), (590.2, 124.2), (592.0, 129.5), (594.9, 127.4),
    (596.8, 120.0), (598.7, 128.4), (600.5, 128.4), (602.4, 112.6), (604.3, 128.4), (606.1, 119.0),
    (608.0, 126.3), (609.9, 115.8), (611.8, 126.3), (613.6, 117.9), (615.5, 128.4), (618.3, 116.8),
    (620.2, 128.4), (623.0, 121.1), (625.8, 127.4), (629.6, 124.2), (634.0, 124.9), (640.0, 125.6),
    (650.0, 125.8), (660.0, 126.0), (670.0, 125.5), (680.0, 124.6), (690.0, 123.4), (702.0, 121.1),
    (708.0, 119.8), (715.0, 115.9), (717.0, 118.9), (721.0, 112.3), (725.0, 117.2), (729.5, 109.7),
    (733.0, 114.5), (737.7, 104.4), (741.0, 113.6), (744.0, 110.6), (747.5, 112.3), (750.0, 96.4),
    (752.5, 107.0), (755.7, 89.4), (758.0, 109.7), (760.7, 78.8), (764.0, 62.9), (766.4, 56.7),
    (768.9, 85.0), (772.0, 55.0), (777.0, 86.7), (780.0, 51.4), (784.4, 99.1), (788.5, 50.5),
    (793.0, 47.0), (799.0, 98.6), (803.0, 46.1), (806.6, 84.1), (811.5, 45.2), (817.0, 43.5),
    (823.0, 71.7), (828.0, 62.0), (832.0, 42.6), (837.7, 41.7), (840.0, 66.4), (844.0, 40.8),
    (849.0, 43.5), (852.5, 73.5), (855.7, 40.0), (862.0, 40.0), (866.0, 55.0), (872.0, 38.2),
    (878.7, 39.1), (887.0, 56.7), (891.0, 37.3), (896.7, 44.4), (903.0, 34.7), (909.0, 51.4),
    (914.0, 33.8), (922.0, 43.5), (928.0, 32.9), (936.0, 33.8), (942.6, 32.9), (948.0, 44.4),
    (952.5, 31.1), (960.7, 29.4), (969.0, 28.5), (977.0, 34.7), (981.0, 27.1), (989.0, 25.8),
    (997.5, 26.7), (1005.7, 29.4), (1010.0, 32.0), (1015.6, 42.6), (1020.0, 31.1), (1026.0, 32.9),
    (1030.0, 36.4), (1036.0, 32.0), (1042.6, 33.8), (1051.0, 37.3), (1055.0, 29.4), (1060.7, 24.9),
    (1067.0, 23.2), (1075.0, 21.4), (1083.6, 20.5), (1092.0, 19.2), (1100.0, 19.6), (1108.0, 18.8),
    (1120.5, 18.3), (1128.7, 17.9), (1137.0, 47.4), (1141.0, 17.9), (1149.0, 37.3), (1153.0, 17.4),
    (1165.6, 17.0), (1174.0, 48.8), (1178.0, 17.0), (1186.0, 47.9), (1190.0, 16.1), (1198.0, 42.6),
    (1202.0, 16.1), (1215.0, 15.7), (1224.6, 45.7), (1229.5, 15.2), (1235.0, 14.4), (1243.4, 39.5),
    (1247.5, 22.3), (1255.7, 27.6), (1260.0, 39.5), (1264.0, 25.8), (1270.5, 39.1), (1276.0, 30.2),
    (1288.5, 36.4), (1296.7, 30.2), (1305.0, 32.9), (1313.0, 34.2), (1317.0, 32.9), (1325.0, 21.4),
    (1331.0, 31.1), (1337.7, 32.0), (1346.0, 30.2), (1354.0, 31.1), (1362.0, 28.9), (1370.0, 28.5),
    (1387.0, 27.6), (1411.5, 25.4), (1436.0, 24.1), (1460.7, 22.3), (1485.0, 21.0), (1501.6, 20.1),
    (1520.0, 19.1), (1538.5, 27.6), (1542.6, 17.9), (1559.0, 21.0), (1563.0, 17.4), (1575.0, 24.9),
    (1579.5, 16.1), (1600.0, 15.2), (1616.0, 17.0), (1620.5, 14.4), (1653.0, 19.2), (1657.0, 12.6),
    (1682.0, 11.7), (1696.0, 16.6), (1700.0, 10.8), (1717.0, 15.2), (1721.0, 9.9), (1747.5, 9.1),
    (1772.0, 8.2), (1797.0, 7.3), (1800.0, 7.2),
]

# ---------------- panel 5: mean radiance 1800-3020 cm-1 ----------------
rad_all_sw = [
    (1797.7, 7.93), (1801.6, 7.26), (1805.5, 7.65), (1809.4, 7.54), (1813.3, 6.81), (1816.4, 7.37),
    (1819.5, 6.20), (1822.7, 7.04), (1826.6, 6.70), (1830.5, 6.92), (1835.2, 6.42), (1838.3, 6.76),
    (1842.2, 6.37), (1846.1, 6.53), (1850.0, 6.14), (1853.1, 4.74), (1855.5, 5.36), (1858.6, 5.69),
    (1863.3, 5.92), (1866.4, 5.75), (1869.5, 5.97), (1873.4, 4.18), (1877.3, 3.62), (1880.5, 5.13),
    (1883.6, 5.58), (1886.7, 5.41), (1889.8, 4.80), (1893.0, 5.25), (1896.9, 4.46), (1900.0, 2.84),
    (1902.3, 3.90), (1905.5, 5.02), (1908.6, 5.25), (1911.7, 4.74), (1914.8, 4.46), (1918.8, 4.91),
    (1921.9, 4.57), (1925.0, 2.11), (1928.1, 3.34), (1931.3, 4.57), (1934.4, 2.23), (1937.5, 4.18),
    (1940.6, 4.46), (1943.8, 3.90), (1946.9, 1.66), (1950.0, 3.90), (1953.1, 4.13), (1956.3, 3.06),
    (1959.4, 3.45), (1962.5, 2.78), (1965.6, 4.13), (1968.8, 3.73), (1971.9, 1.38), (1975.0, 2.78),
    (1978.1, 3.34), (1981.3, 1.66), (1984.4, 0.93), (1987.5, 3.79), (1990.6, 2.22), (1993.8, 2.78),
    (1996.9, 1.66), (2000.0, 0.71), (2003.1, 2.50), (2006.3, 3.34), (2009.4, 1.94), (2012.5, 0.65),
    (2015.6, 2.22), (2018.8, 3.45), (2021.9, 1.66), (2025.0, 1.10), (2028.1, 0.43), (2031.3, 1.94),
    (2034.4, 2.78), (2037.5, 1.38), (2040.6, 0.65), (2043.8, 1.66), (2046.9, 2.50), (2050.0, 1.10),
    (2053.1, 0.43), (2056.3, 1.38), (2059.4, 2.22), (2062.5, 0.93), (2065.6, 0.32), (2068.8, 1.10),
    (2071.9, 1.94), (2075.0, 0.82), (2078.1, 0.26), (2081.3, 1.10), (2084.4, 1.66), (2087.5, 0.54),
    (2090.6, 0.26), (2093.8, 1.10), (2096.9, 1.38), (2100.0, 0.37), (2103.1, 0.21), (2106.3, 0.82),
    (2109.4, 1.10), (2112.5, 0.37), (2115.6, 0.21), (2118.8, 0.65), (2121.9, 0.93), (2125.0, 0.32),
    (2128.1, 0.15), (2131.3, 0.65), (2134.4, 0.54), (2137.5, 0.21), (2140.6, 0.43), (2143.8, 0.21),
    (2146.9, 0.65), (2150.0, 0.32), (2153.1, 0.21), (2156.3, 0.54), (2159.4, 0.26), (2162.5, 0.43),
    (2165.6, 0.32), (2168.8, 0.65), (2171.9, 0.43), (2175.0, 0.77), (2178.1, 0.54), (2181.3, 0.88),
    (2184.4, 0.77), (2188.3, 0.99), (2192.2, 1.10), (2196.1, 0.99), (2200.0, 1.16), (2203.9, 1.21),
    (2207.8, 1.10), (2211.7, 1.27), (2215.6, 1.16), (2219.5, 1.10), (2221.9, 0.93), (2224.2, 0.77),
    (2226.6, 1.16), (2229.7, 1.27), (2235.2, 1.36), (2243.0, 1.34), (2250.8, 1.33), (2258.6, 1.31),
    (2266.4, 1.28), (2282.0, 1.23), (2297.7, 1.18), (2313.3, 1.13), (2328.9, 1.09), (2344.5, 1.05),
    (2360.2, 1.00), (2375.8, 0.95), (2383.6, 0.90), (2386.7, 0.77), (2389.8, 0.54), (2392.9, 0.40),
    (2399.2, 0.32), (2407.0, 0.26), (2422.7, 0.21), (2446.1, 0.17), (2477.3, 0.14), (2516.4, 0.12),
    (2578.9, 0.12), (2637.5, 0.12), (2657.0, 0.11), (2735.2, 0.10), (2813.3, 0.08), (2891.4, 0.07),
    (2969.5, 0.06), (3018.0, 0.05),
]
rad_cloudy_sw = [
    (1797.7, 7.85), (1801.6, 7.40), (1805.5, 7.70), (1809.4, 7.55), (1813.3, 6.95), (1816.4, 7.40),
    (1819.5, 6.45), (1822.7, 7.10), (1826.6, 6.80), (1830.5, 6.95), (1835.2, 6.55), (1838.3, 6.80),
    (1842.2, 6.45), (1846.1, 6.60), (1850.0, 6.25), (1853.1, 5.00), (1855.5, 5.45), (1858.6, 5.75),
    (1863.3, 5.95), (1866.4, 5.80), (1869.5, 6.00), (1873.4, 4.50), (1877.3, 4.10), (1880.5, 5.30),
    (1883.6, 5.65), (1886.7, 5.50), (1889.8, 5.00), (1893.0, 5.35), (1896.9, 4.70), (1900.0, 3.40),
    (1902.3, 4.20), (1905.5, 5.10), (1908.6, 5.30), (1911.7, 4.90), (1914.8, 4.60), (1918.8, 5.05),
    (1921.9, 4.70), (1925.0, 2.90), (1928.1, 3.70), (1931.3, 4.70), (1934.4, 2.90), (1937.5, 4.35),
    (1940.6, 4.55), (1943.8, 4.10), (1946.9, 2.60), (1950.0, 4.05), (1953.1, 4.25), (1956.3, 3.40),
    (1959.4, 3.65), (1962.5, 3.10), (1965.6, 4.20), (1968.8, 3.90), (1971.9, 2.10), (1975.0, 3.10),
    (1978.1, 3.55), (1981.3, 2.40), (1984.4, 1.60), (1987.5, 3.95), (1990.6, 2.70), (1993.8, 3.15),
    (1996.9, 2.20), (2000.0, 1.50), (2003.1, 2.85), (2006.3, 3.50), (2009.4, 2.40), (2012.5, 1.45),
    (2015.6, 2.70), (2018.8, 3.55), (2021.9, 2.20), (2025.0, 1.75), (2028.1, 1.30), (2031.3, 2.40),
    (2034.4, 2.95), (2037.5, 1.95), (2040.6, 1.40), (2043.8, 2.15), (2046.9, 2.75), (2050.0, 1.70),
    (2053.1, 1.25), (2056.3, 1.90), (2059.4, 2.50), (2062.5, 1.60), (2065.6, 1.15), (2068.8, 1.75),
    (2071.9, 2.45), (2075.0, 1.45), (2078.1, 1.10), (2081.3, 1.75), (2084.4, 2.10), (2087.5, 1.30),
    (2090.6, 1.05), (2093.8, 1.70), (2096.9, 1.95), (2100.0, 1.20), (2103.1, 0.95), (2106.3, 1.45),
    (2109.4, 2.05), (2112.5, 1.10), (2115.6, 0.95), (2118.8, 1.35), (2121.9, 1.55), (2125.0, 1.00),
    (2128.1, 0.90), (2131.3, 1.35), (2134.4, 1.70), (2137.5, 0.95), (2140.6, 1.15), (2143.8, 0.90),
    (2146.9, 1.45), (2150.0, 1.00), (2153.1, 0.92), (2156.3, 1.30), (2159.4, 0.95), (2162.5, 1.40),
    (2165.6, 1.05), (2168.8, 1.35), (2171.9, 1.10), (2175.0, 1.30), (2178.1, 1.15), (2181.3, 1.45),
    (2184.4, 1.25), (2188.3, 1.40), (2192.2, 1.25), (2196.1, 1.45), (2200.0, 1.30), (2203.9, 1.45),
    (2207.8, 1.33), (2211.7, 1.42), (2215.6, 1.35), (2219.5, 1.30), (2221.9, 1.15), (2224.2, 1.00),
    (2226.6, 1.30), (2229.7, 1.40), (2235.2, 1.44), (2243.0, 1.41), (2250.8, 1.42), (2258.6, 1.37),
    (2266.4, 1.35), (2282.0, 1.29), (2297.7, 1.24), (2313.3, 1.19), (2328.9, 1.14), (2344.5, 1.10),
    (2360.2, 1.05), (2375.8, 1.00), (2383.6, 0.95), (2386.7, 0.85), (2389.8, 0.68), (2392.9, 0.58),
    (2399.2, 0.50), (2407.0, 0.47), (2422.7, 0.43), (2446.1, 0.40), (2477.3, 0.37), (2516.4, 0.35),
    (2578.9, 0.32), (2637.5, 0.32), (2657.0, 0.34), (2700.0, 0.31), (2735.2, 0.29), (2774.0, 0.26),
    (2813.3, 0.24), (2850.0, 0.21), (2891.4, 0.18), (2930.0, 0.15), (2969.5, 0.12), (3018.0, 0.08),
]

# ---------------- style ----------------
sns.set_style("white")
plt.rcParams["font.family"] = ["DejaVu Sans"]
plt.rcParams["mathtext.fontset"] = "dejavusans"

AX_BLUE = "#0072BD"
DARK = "#262626"

fig = plt.figure(figsize=(12.75, 20), dpi=300)
L, W = 0.097, 0.688
boxes = [(0.7997, 0.1511), (0.6122, 0.1512), (0.4247, 0.1512), (0.2385, 0.1493), (0.0497, 0.1506)]
axes = [fig.add_axes([L, b, W, h]) for b, h in boxes]


def draw(ax, x, y, color, lw, label):
    sns.lineplot(x=np.asarray(x), y=np.asarray(y), ax=ax, color=color, linewidth=lw,
                 label=label, sort=False, estimator=None, legend=False)


def draw_pairs(ax, pts, color, lw, label):
    arr = np.asarray(pts)
    draw(ax, arr[:, 0], arr[:, 1], color, lw, label)


def style(ax, xlabel, ylabel, xticks, yticks):
    for s in ("left", "right"):
        ax.spines[s].set_color(AX_BLUE)
        ax.spines[s].set_linewidth(0.8)
    ax.spines["bottom"].set_color(DARK)
    ax.spines["bottom"].set_linewidth(0.8)
    ax.spines["top"].set_visible(False)
    ax.set_xticks(xticks, labels=[f"{t:g}" for t in xticks])
    ax.set_yticks(yticks, labels=[f"{t:g}" for t in yticks])
    ax.tick_params(axis="y", direction="in", length=6.5, width=0.8, color=AX_BLUE,
                   labelcolor=AX_BLUE, labelsize=9.5, pad=6.5, left=True, right=False)
    ax.tick_params(axis="x", direction="in", length=6.5, width=0.8, color=DARK,
                   labelcolor=DARK, labelsize=9.5, pad=6, bottom=True, top=False)
    ax.set_xlabel(xlabel, fontsize=11, color=DARK, labelpad=4)
    ax.set_ylabel(ylabel, fontsize=11, color=AX_BLUE, labelpad=8)


def legend(ax, anchor, spacing):
    lg = ax.legend(loc="upper left", bbox_to_anchor=anchor, frameon=False, fontsize=9.2,
                   handlelength=6.0, handletextpad=0.7, labelspacing=spacing, borderpad=0.4)
    lg.set_zorder(20)


hour_ticks = [0, 5, 10, 15, 20]
utc = "UTC hours on 20241001"

# panel 1
ax = axes[0]
draw_pairs(ax, nadir85, "#A52A2A", 2.2, r"85$^{\mathrm{o}}$ WRT Nadir")
draw_pairs(ax, nadir95, "#FFA500", 2.2, r"95$^{\mathrm{o}}$ WRT Nadir")
draw_pairs(ax, nadir125, "#008000", 2.2, r"125$^{\mathrm{o}}$ WRT Nadir")
draw_pairs(ax, window985, "#0000FF", 2.2, r"180$^{\mathrm{o}}$ WRT Nadir")
ax.set_xlim(0, 24)
ax.set_ylim(167.5, 291)
style(ax, utc, r"AERI 985-900 cm$^{-1}$ (Window) BT", hour_ticks, [180, 200, 220, 240, 260, 280])
legend(ax, (0.713, 0.905), 0.8)

# panel 2
ax = axes[1]
draw_pairs(ax, window985, "#0000FF", 2.2, r"AERI 985-900 cm$^{-1}$ (Window)")
draw_pairs(ax, window2510, "#ADD8E6", 1.1, r"AERI 2510-2515 cm$^{-1}$ (Window)")
ax.set_xlim(0, 24)
ax.set_ylim(166.5, 320)
style(ax, utc, "Zenith BTs, K", hour_ticks, [180, 200, 220, 240, 260, 280, 300, 320])
legend(ax, (0.573, 0.963), 0.5)

# panel 3
ax = axes[2]
draw(ax, hours_thick, surf675, "#FFA500", 2.5, r"AERI 675-680 cm$^{-1}$ (Surf Air)")
draw(ax, hours_thick, ch700, "#0000FF", 2.5, r"AERI 700-705 cm$^{-1}$")
draw(ax, hours_thin, surf2295, "#A52A2A", 1.0, r"AERI 2295-2300 cm$^{-1}$ (Surf Air)")
draw(ax, hours_thin, ch2282, "#ADD8E6", 1.0, r"AERI 2282-2287 cm$^{-1}$")
ax.set_xlim(0, 24)
ax.set_ylim(280.73, 285.23)
style(ax, utc, "Zenith BTs, K", hour_ticks, [281, 281.5, 282, 282.5, 283, 283.5, 284, 284.5, 285])
legend(ax, (0.573, 0.923), 0.72)

# day-time shading drawn over the lines, like the original
for ax in axes[:3]:
    ax.axvspan(0, 7.5, color="yellow", alpha=0.15, lw=0, zorder=10)
    ax.axvspan(21, 24, color="yellow", alpha=0.15, lw=0, zorder=10)

rad_label = r"Mean Radiance, mW/(m$^2$ sr cm$^{-1}$)"
wn_label = r"Wavenumber, cm$^{-1}$"

# panel 4
ax = axes[3]
draw_pairs(ax, rad_all_lw, "black", 1.3, "Mean Radiance 0 to 24h UTC 20241001")
draw_pairs(ax, rad_cloudy_lw, "red", 1.3, "... cloudy")
ax.set_xlim(520, 1800)
ax.set_ylim(1.6, 136)
style(ax, wn_label, rad_label, list(range(600, 1801, 200)), [20, 40, 60, 80, 100, 120])
legend(ax, (0.540, 0.985), 0.6)

# panel 5
ax = axes[4]
draw_pairs(ax, rad_all_sw, "black", 1.3, "Mean Radiance 0 to 24h UTC 20241001")
draw_pairs(ax, rad_cloudy_sw, "red", 1.3, "... cloudy")
ax.set_xlim(1800, 3021)
ax.set_ylim(-0.33, 8.29)
style(ax, wn_label, rad_label, list(range(1800, 3001, 200)), list(range(0, 9)))
legend(ax, (0.540, 0.985), 0.6)

fig.savefig("out.png", dpi=300)
